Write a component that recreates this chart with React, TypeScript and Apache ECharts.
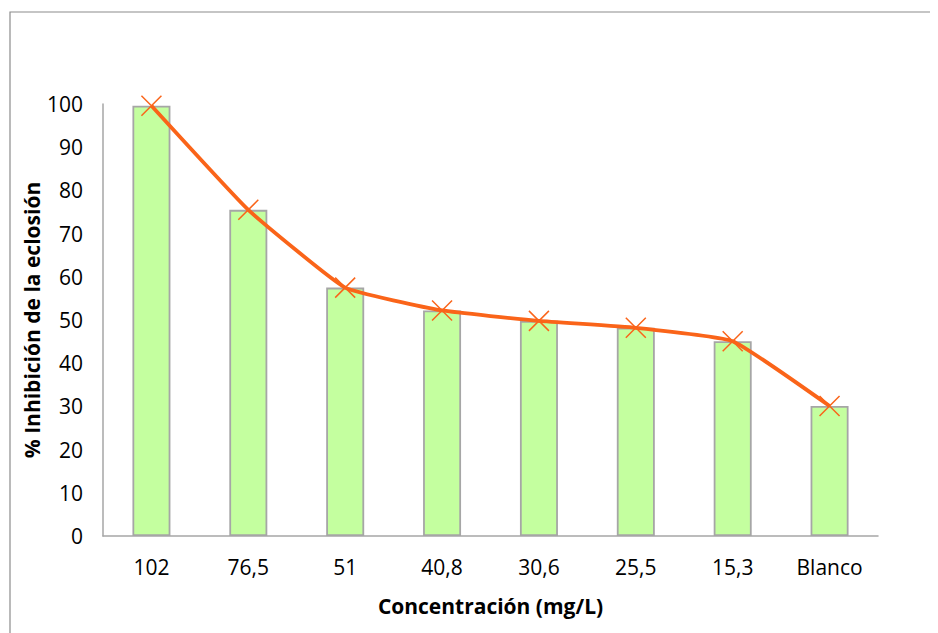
import React, { useEffect, useRef } from "react";
import * as echarts from "echarts";

const categories = ["102", "76,5", "51", "40,8", "30,6", "25,5", "15,3", "Blanco"];
const barValues = [99.6, 75.5, 57.5, 52.2, 49.8, 48.2, 45.1, 30.1];
const lineValues = [99.6, 75.5, 57.5, 52.2, 49.8, 48.2, 45.1, 30.1];
const yTicks = { min: 0, max: 100, interval: 10 };

const FONT = "'Open Sans', 'Noto Sans', sans-serif";

export default function App() {
  const ref = useRef<HTMLDivElement>(null);
  useEffect(() => {
    if (!ref.current) return;
    const chart = echarts.init(ref.current, undefined, { renderer: "svg" });
    chart.setOption({
      animation: false,
      backgroundColor: "#ffffff",
      graphic: [
        {
          type: "rect",
          shape: { x: 2, y: 4, width: 1000, height: 1000 },
          style: { fill: "none", stroke: "#8c8c8c", lineWidth: 1.2 },
          silent: true,
          z: -1,
        },
      ],
      grid: { left: 95, top: 96, right: 60, bottom: 97, containLabel: false },
      xAxis: {
        type: "category",
        data: categories,
        axisLine: { show: true, lineStyle: { color: "#a6a6a6", width: 1.5 } },
        axisTick: { show: false },
        axisLabel: { color: "#000", fontFamily: FONT, fontSize: 21, margin: 20 },
        name: "Concentración (mg/L)",
        nameLocation: "middle",
        nameGap: 59,
        nameTextStyle: { color: "#000", fontFamily: FONT, fontSize: 21, fontWeight: "bold" },
      },
      yAxis: {
        type: "value",
        min: yTicks.min,
        max: yTicks.max,
        interval: yTicks.interval,
        axisLine: { show: true, lineStyle: { color: "#a6a6a6", width: 1.5 } },
        axisTick: { show: false },
        splitLine: { show: false },
        axisLabel: { color: "#000", fontFamily: FONT, fontSize: 21, margin: 20 },
        name: "% Inhibición de la eclosión",
        nameLocation: "middle",
        nameGap: 61,
        nameMoveOverlap: false,
        nameTextStyle: { color: "#000", fontFamily: FONT, fontSize: 21, fontWeight: "bold" },
      },
      series: [
        {
          type: "bar",
          data: barValues,
          barWidth: 38,
          itemStyle: { color: "#c4ff9f", borderColor: "#a6a6a6", borderWidth: 1.8 },
          z: 1,
        },
        {
          type: "line",
          data: lineValues,
          smooth: 0.12,
          lineStyle: { color: "#fa6419", width: 3.8 },
          symbol: "path://M0,0L10,10M10,0L0,10",
          symbolSize: 20,
          showSymbol: true,
          itemStyle: { color: "none", borderColor: "#fa6419", borderWidth: 1.5 },
          z: 3,
        },
      ],
    });
    return () => chart.dispose();
  }, []);
  return <div ref={ref} style={{ width: 930, height: 625 }} />;
}
